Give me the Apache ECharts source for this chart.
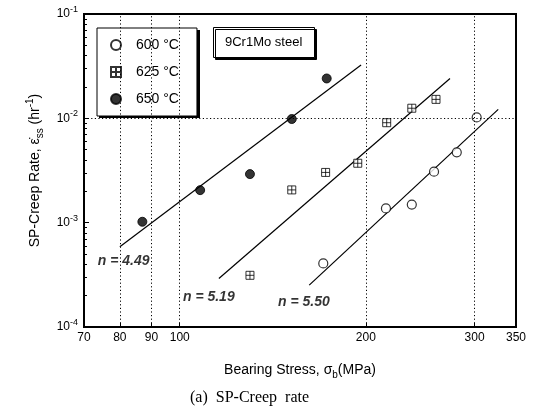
<!DOCTYPE html>
<html>
<head>
  <meta charset="UTF-8">
  <title>SP-Creep rate</title>
  <style>
    html, body { margin: 0; padding: 0; background: #fff; }
    #main { width: 536px; height: 417px; }
  </style>
  <script src="https://cdn.jsdelivr.net/npm/echarts@6/dist/echarts.min.js"></script>
</head>
<body>
<div id="main"></div>
<script>
// values
var temps = ['600 °C', '625 °C', '650 °C'];

var stress600 = [170.7, 215.6, 237.4, 257.9, 280.7, 302.3];
var rate600   = [4.07e-4, 1.37e-3, 1.49e-3, 3.08e-3, 4.72e-3, 1.02e-2];
var stress625 = [129.9, 151.8, 172.2, 194.1, 216.2, 237.4, 259.8];
var rate625   = [3.13e-4, 2.06e-3, 3.03e-3, 3.71e-3, 9.08e-3, 1.25e-2, 1.52e-2];
var stress650 = [87.0, 107.9, 129.9, 151.8, 172.9];
var rate650   = [1.02e-3, 2.05e-3, 2.92e-3, 9.85e-3, 2.41e-2];

// fitted lines: end points
var fitStress600 = [162.0, 327.6];
var fitRate600   = [2.52e-4, 1.22e-2];
var fitStress625 = [115.7, 273.7];
var fitRate625   = [2.92e-4, 2.41e-2];
var fitStress650 = [80.0, 196.5];
var fitRate650   = [5.87e-4, 3.24e-2];

// slope labels and where they sit
var slopeText   = ['n = 4.49', 'n = 5.19', 'n = 5.50'];
var slopeStress = [73.7, 101.2, 144.2];
var slopeRate   = [4.28e-4, 1.94e-4, 1.75e-4];

var xTicks = [70, 80, 90, 100, 200, 300, 350];
var xGrid  = [80, 90, 100, 200, 300];
var yTicks = [1e-4, 1e-3, 1e-2, 1e-1];
var yGrid  = [1e-3, 1e-2];
var yMinor = [2e-4, 3e-4, 4e-4, 5e-4, 6e-4, 7e-4, 8e-4, 9e-4,
              2e-3, 3e-3, 4e-3, 5e-3, 6e-3, 7e-3, 8e-3, 9e-3,
              2e-2, 3e-2, 4e-2, 5e-2, 6e-2, 7e-2, 8e-2, 9e-2];

function pairs(xs, ys) {
  return xs.map(function (x, i) { return [x, ys[i]]; });
}

var font = 'Liberation Sans, Arial, sans-serif';
var squareCross = 'path://M0,0H10V10H0ZM5,0V10M0,5H10';

var chart = echarts.init(document.getElementById('main'));

var fitLine = function (xs, ys) {
  return {
    type: 'line',
    data: pairs(xs, ys),
    symbol: 'none',
    silent: true,
    lineStyle: { color: '#000', width: 1.2 },
    z: 3
  };
};

var option = {
  animation: false,
  backgroundColor: '#fff',
  textStyle: { fontFamily: font, color: '#000' },
  title: [
    {
      text: '9Cr1Mo steel',
      left: 213, top: 27,
      padding: [9, 12],
      backgroundColor: '#fff',
      borderColor: '#000', borderWidth: 1,
      shadowColor: '#000', shadowBlur: 0, shadowOffsetX: 2, shadowOffsetY: 2,
      textStyle: { fontFamily: font, fontSize: 13, fontWeight: 'normal', color: '#000' }
    },
    {
      text: '(a)  SP-Creep  rate',
      left: 190, top: 390,
      padding: 0,
      textStyle: { fontFamily: 'Liberation Serif, Times New Roman, serif', fontSize: 16, fontWeight: 'normal', color: '#000' }
    }
  ],
  // hard shadow behind the legend box
  graphic: [{
    type: 'rect',
    left: 99, top: 30,
    shape: { width: 101, height: 88 },
    style: { fill: '#000' },
    z: 3
  }],
  legend: {
    data: temps,
    orient: 'vertical',
    left: 97, top: 28,
    padding: [10, 18, 10, 13],
    itemWidth: 30, itemHeight: 10,
    itemGap: 13,
    backgroundColor: '#fff',
    borderColor: '#000', borderWidth: 1,
    textStyle: { fontFamily: font, fontSize: 14, lineHeight: 14, color: '#000' },
    z: 5
  },
  grid: {
    left: 84, right: 20, top: 14, bottom: 90,
    show: true,
    borderColor: '#000', borderWidth: 2,
    backgroundColor: 'transparent'
  },
  xAxis: {
    type: 'log',
    min: 70, max: 350,
    name: '{a|Bearing Stress, σ}{b|b}{a|(MPa)}',
    nameLocation: 'middle',
    nameGap: 33,
    nameTextStyle: {
      rich: {
        a: { fontFamily: font, fontSize: 14, color: '#000' },
        b: { fontFamily: font, fontSize: 10, color: '#000', padding: [10, 0, 0, 0] }
      }
    },
    axisLine: { show: false },
    axisTick: { show: true, inside: true, length: 4, customValues: xTicks, lineStyle: { color: '#000' } },
    axisLabel: { customValues: xTicks, fontFamily: font, fontSize: 12, color: '#000', margin: 5,
                 formatter: function (v) { return String(Math.round(v)); } },
    splitLine: { show: false },
    minorTick: { show: false }
  },
  yAxis: [
    {
      type: 'log',
      min: 1e-4, max: 1e-1,
      name: '{a|SP-Creep Rate, ε̇}{s|ss}{a| (hr}{p|-1}{a|)}',
      nameLocation: 'middle',
      nameGap: 39,
      nameTextStyle: {
        rich: {
          a: { fontFamily: font, fontSize: 14, color: '#000' },
          s: { fontFamily: font, fontSize: 10, color: '#000', padding: [10, 0, 0, 0] },
          p: { fontFamily: font, fontSize: 10, color: '#000', padding: [0, 0, 10, 0] }
        }
      },
      axisLine: { show: false },
      axisTick: { show: true, inside: true, length: 5, customValues: yTicks, lineStyle: { color: '#000' } },
      axisLabel: {
        customValues: yTicks,
        margin: 6,
        formatter: function (v) {
          return '{b|10}{s|' + Math.round(Math.log10(v)) + '}';
        },
        rich: {
          b: { fontFamily: font, fontSize: 12, color: '#000' },
          s: { fontFamily: font, fontSize: 9, color: '#000', padding: [0, 0, 9, 0] }
        }
      },
      splitLine: { show: false }
    },
    {
      type: 'log',
      min: 1e-4, max: 1e-1,
      position: 'left',
      axisLine: { show: false },
      axisTick: { show: true, inside: true, length: 3, customValues: yMinor, lineStyle: { color: '#000' } },
      axisLabel: { show: false },
      splitLine: { show: false }
    }
  ],
  series: [
    {
      // dotted grid lines
      type: 'line',
      data: [],
      silent: true,
      z: 1,
      markLine: {
        silent: true,
        symbol: 'none',
        label: { show: false },
        lineStyle: { color: '#000', width: 1, type: [1.2, 2.4] },
        data: xGrid.map(function (v) { return { xAxis: v }; })
              .concat(yGrid.map(function (v) { return { yAxis: v }; }))
      }
    },
    {
      name: temps[0],
      type: 'scatter',
      data: pairs(stress600, rate600),
      symbol: 'circle', symbolSize: 9,
      itemStyle: { color: '#fff', borderColor: '#000', borderWidth: 1.2 },
      z: 4
    },
    {
      name: temps[1],
      type: 'scatter',
      data: pairs(stress625, rate625),
      symbol: squareCross, symbolSize: 8,
      itemStyle: { color: '#fff', borderColor: '#000', borderWidth: 1 },
      z: 4
    },
    {
      name: temps[2],
      type: 'scatter',
      data: pairs(stress650, rate650),
      symbol: 'circle', symbolSize: 9,
      itemStyle: { color: '#000', borderColor: '#000', borderWidth: 1 },
      z: 4
    },
    fitLine(fitStress600, fitRate600),
    fitLine(fitStress625, fitRate625),
    fitLine(fitStress650, fitRate650),
    {
      type: 'scatter',
      silent: true,
      symbolSize: 0,
      data: slopeText.map(function (t, i) {
        return { name: t, value: [slopeStress[i], slopeRate[i]] };
      }),
      label: {
        show: true,
        position: 'right',
        distance: 0,
        formatter: '{b}',
        fontFamily: font, fontSize: 14, fontWeight: 'bold', fontStyle: 'italic', color: '#000'
      },
      z: 5
    }
  ]
};

chart.setOption(option);
</script>
</body>
</html>
